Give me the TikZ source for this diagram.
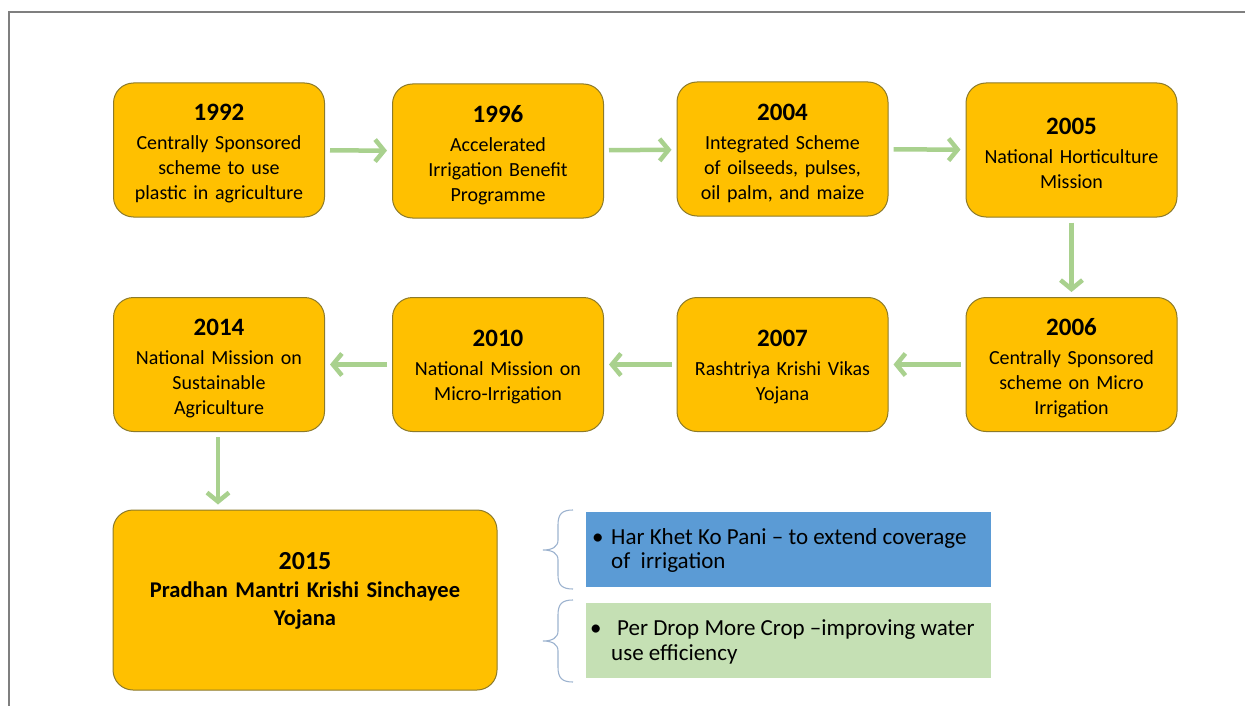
\documentclass[tikz,border=0pt]{standalone}
\usepackage{fontspec}
\setmainfont{Carlito}
\usetikzlibrary{arrows.meta}
\definecolor{boxfill}{HTML}{FFC000}
\definecolor{boxdraw}{HTML}{8C7A2A}
\definecolor{arrowgreen}{HTML}{A9D18E}
\definecolor{bluefill}{HTML}{5B9BD5}
\definecolor{greenfill}{HTML}{C5E0B4}
\definecolor{bracecol}{HTML}{9DB3CF}
\definecolor{framecol}{HTML}{7F7F7F}
\newcommand\yr[1]{{\fontsize{25}{27}\selectfont\bfseries #1}\\[4pt]}
\newcommand\tightlines{\lineskiplimit=-100pt\relax}
\begin{document}
\begin{tikzpicture}[x=1pt,y=-1pt,
  yearbox/.style={draw=boxdraw, fill=boxfill, line width=1pt, rounded corners=20pt,
    minimum width=211pt, minimum height=134pt, inner sep=0pt},
  yeartext/.style={text width=205pt, align=center, inner sep=0pt,
    font=\fontsize{20}{25}\selectfont\tightlines},
  infobox/.style={minimum width=405pt, minimum height=75pt, inner sep=0pt},
  infotext/.style={inner sep=0pt, anchor=base west, font=\fontsize{23}{25}\selectfont},
  flow/.style={draw=arrowgreen, line width=4.5pt,
    -{Straight Barb[length=9pt,width=22pt]}, shorten <=5pt, shorten >=5pt},
  bracestyle/.style={draw=bracecol, line width=1.1pt}]
\useasboundingbox (0,0) rectangle (1245,706);
\draw[framecol, line width=1.5pt] (9,706) -- (9,12) -- (1245,12);

% boxes
\node[yearbox] (n1992) at (219,150) {};
\node[yearbox] (n1996) at (498,151) {};
\node[yearbox] (n2004) at (782.5,149) {};
\node[yearbox] (n2005) at (1071.5,150) {};
\node[yearbox] (n2006) at (1071.5,364.5) {};
\node[yearbox] (n2007) at (782.5,364.5) {};
\node[yearbox] (n2010) at (498,364.5) {};
\node[yearbox] (n2014) at (219,364.5) {};
\node[yearbox, minimum width=384pt, minimum height=180pt] (n2015) at (305,600) {};

% texts
\node[yeartext] (t1992) at (219,154) {\yr{1992}Centrally Sponsored\\scheme to use\\plastic in agriculture};
\node[yeartext] (t1996) at (498,155) {\yr{1996}Accelerated\\Irrigation Benefit\\Programme};
\node[yeartext] (t2004) at (782.5,153) {\yr{2004}Integrated Scheme\\of oilseeds, pulses,\\oil palm, and maize};
\node[yeartext] (t2005) at (1071.5,153) {\yr{2005}National Horticulture\\Mission};
\node[yeartext] (t2006) at (1071.5,368.5) {\yr{2006}Centrally Sponsored\\scheme on Micro\\Irrigation};
\node[yeartext] (t2007) at (782.5,367.5) {\yr{2007}Rashtriya Krishi Vikas\\Yojana};
\node[yeartext] (t2010) at (498,367.5) {\yr{2010}National Mission on\\Micro-Irrigation};
\node[yeartext] (t2014) at (219,368.5) {\yr{2014}National Mission on\\Sustainable\\Agriculture};
\node[yeartext, text width=370pt, font=\fontsize{22.5}{28}\selectfont\bfseries\tightlines]
  (t2015) at (305,591) {{\fontsize{26}{28}\selectfont 2015}\\Pradhan Mantri Krishi Sinchayee\\Yojana};

% info boxes
\node[infobox, fill=bluefill] (har) at (788.5,549.5) {};
\node[infobox, fill=greenfill] (drop) at (788.5,640) {};
\node[infotext] (harb) at (592,544) {•};
\node[infotext] (har1) at (611,544) {Har Khet Ko Pani – to extend coverage};
\node[infotext] (har2) at (611,568) {of\ \ irrigation};
\node[infotext] (dropb) at (590,635) {•};
\node[infotext] (drop1) at (617,635) {Per Drop More Crop –improving water};
\node[infotext] (drop2) at (611,660) {use efficiency};

% connectors
\draw[flow] (n1992) -- (n1996);
\draw[flow] (n1996) -- (n2004);
\draw[flow] (n2004) -- (n2005);
\draw[flow] (n2005) -- (n2006);
\draw[flow] (n2006) -- (n2007);
\draw[flow] (n2007) -- (n2010);
\draw[flow] (n2010) -- (n2014);
\draw[flow] (n2014.south -| 218,0) -- (n2015.north -| 218,0);

% braces
\draw[bracestyle] (573,510) .. controls (562,510) and (558,514) .. (558,525) -- (558,540)
  .. controls (558,547) and (552,550) .. (543,550) .. controls (552,550) and (558,553) .. (558,560)
  -- (558,575) .. controls (558,585) and (562,589) .. (573,589);
\draw[bracestyle] (573,600) .. controls (562,600) and (558,604) .. (558,615) -- (558,631)
  .. controls (558,638) and (552,641) .. (543,641) .. controls (552,641) and (558,644) .. (558,651)
  -- (558,667) .. controls (558,678) and (562,682) .. (573,682);
\end{tikzpicture}
\end{document}
